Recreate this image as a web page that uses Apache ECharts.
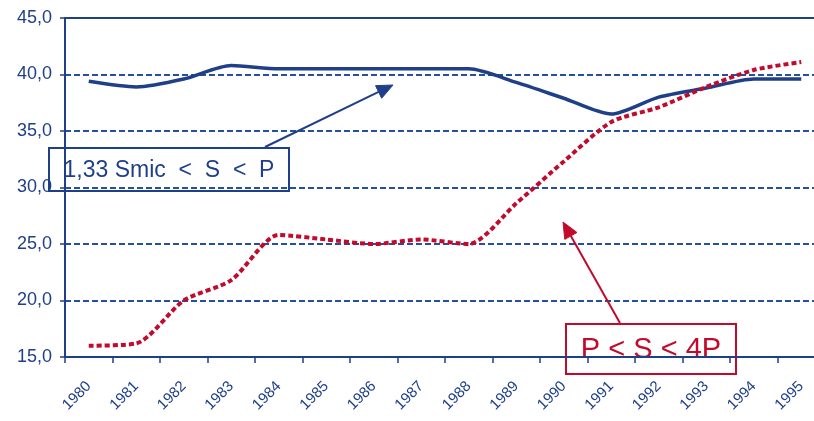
<!DOCTYPE html>
<html style="height: 100%">
<head>
    <meta charset="utf-8">
</head>
<body style="height: 100%; margin: 0; background: #fff">
<div id="container" style="width: 814px; height: 421px;"></div>

<script type="text/javascript" src="https://cdn.jsdelivr.net/npm/echarts@6/dist/echarts.min.js"></script>
<script type="text/javascript">
    // data
    var years = ['1980', '1981', '1982', '1983', '1984', '1985', '1986', '1987',
                 '1988', '1989', '1990', '1991', '1992', '1993', '1994', '1995'];
    var smicToP = [39.4, 38.9, 39.6, 40.8, 40.5, 40.5, 40.5, 40.5,
                   40.5, 39.3, 37.9, 36.5, 38.0, 38.8, 39.6, 39.6];
    var pTo4P = [16.0, 16.2, 20.0, 21.8, 25.8, 25.4, 25.0, 25.4,
                 25.0, 28.6, 32.3, 35.8, 37.1, 38.9, 40.4, 41.1];
    var yTicks = [15, 20, 25, 30, 35, 40, 45];

    var navy = '#1f3f88';
    var red = '#c20a2c';
    var font = '"Liberation Sans", Arial, sans-serif';

    var dom = document.getElementById("container");
    var myChart = echarts.init(dom);

    // arrow = line + filled head
    function arrow(x1, y1, x2, y2, color) {
        var a = Math.atan2(y2 - y1, x2 - x1);
        var len = 16, w = 7;
        var bx = x2 - len * Math.cos(a), by = y2 - len * Math.sin(a);
        var px = -Math.sin(a) * w, py = Math.cos(a) * w;
        return [{
            type: 'polyline',
            shape: { points: [[x1, y1], [bx, by]] },
            style: { stroke: color, lineWidth: 2, fill: null },
            z: 10
        }, {
            type: 'polygon',
            shape: { points: [[x2, y2], [bx + px, by + py], [bx - px, by - py]] },
            style: { fill: color, stroke: color, lineWidth: 1 },
            z: 10
        }];
    }

    function box(x, y, w, h, text, color, size) {
        return {
            type: 'group',
            left: x, top: y,
            z: 11,
            children: [{
                type: 'rect',
                shape: { x: 0, y: 0, width: w, height: h },
                style: { fill: '#fff', stroke: color, lineWidth: 2 }
            }, {
                type: 'text',
                x: w / 2, y: h / 2 + 1,
                style: {
                    text: text, fill: color, font: size + 'px ' + font,
                    align: 'center', verticalAlign: 'middle'
                }
            }]
        };
    }

    var graphics = []
        .concat(arrow(265, 147, 393, 85, navy))
        .concat(arrow(620, 323, 563, 222, red))
        .concat([
            box(48, 147, 240, 43, '1,33 Smic  <  S  <  P', navy, 23),
            box(565, 323, 170, 50, 'P < S < 4P', red, 29)
        ]);

    var option = {
        animation: false,
        grid: { left: 65, top: 18, bottom: 64, right: -11, outerBoundsMode: 'none', containLabel: false },
        xAxis: [{
            type: 'category',
            data: years,
            boundaryGap: true,
            axisLine: { lineStyle: { color: navy, width: 2 } },
            axisTick: { show: true, length: 6, lineStyle: { color: navy, width: 1.5 } },
            axisLabel: {
                rotate: 45, margin: 27, color: navy, fontSize: 15,
                fontFamily: font, interval: 0
            },
            splitLine: { show: false }
        }, {
            type: 'category',
            position: 'top',
            data: years,
            axisLine: { show: true, lineStyle: { color: navy, width: 2 } },
            axisTick: { show: false },
            axisLabel: { show: false }
        }],
        yAxis: {
            type: 'value',
            min: yTicks[0],
            max: yTicks[yTicks.length - 1],
            interval: 5,
            axisLine: { show: true, lineStyle: { color: navy, width: 2 } },
            axisTick: { show: true, length: 5, lineStyle: { color: navy, width: 1.5 } },
            axisLabel: {
                color: navy, fontSize: 18, fontFamily: font, margin: 13,
                formatter: function (v) { return v.toFixed(1).replace('.', ','); }
            },
            splitLine: { lineStyle: { color: '#24509f', width: 1.8, type: [6, 3] } }
        },
        series: [{
            name: '1,33 Smic < S < P',
            type: 'line',
            data: smicToP,
            smooth: 0.25,
            symbol: 'none',
            lineStyle: { color: navy, width: 3.5 },
            z: 3
        }, {
            name: 'P < S < 4P',
            type: 'line',
            data: pTo4P,
            smooth: 0.25,
            symbol: 'none',
            lineStyle: { color: red, width: 4, type: [5, 3] },
            z: 4
        }],
        graphic: graphics
    };

    myChart.setOption(option);
</script>
</body>
</html>
